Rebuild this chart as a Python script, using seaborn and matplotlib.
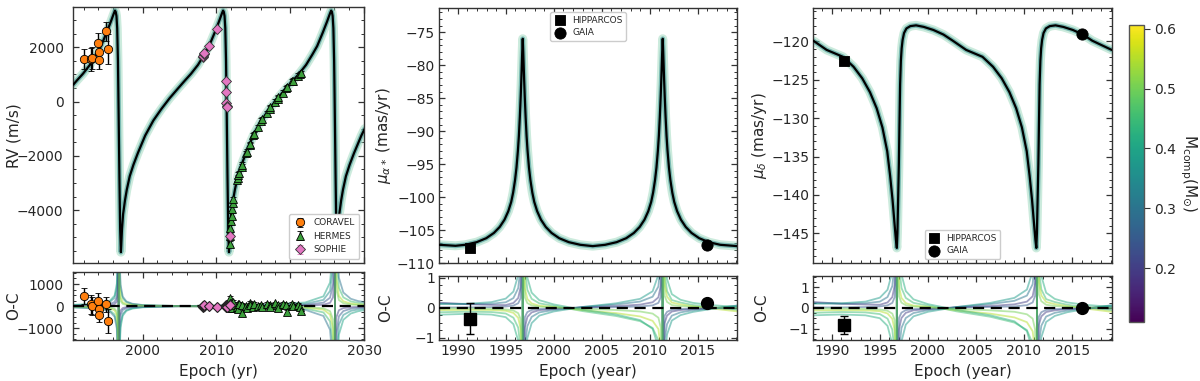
import matplotlib
matplotlib.use("Agg")
import matplotlib.pyplot as plt
import seaborn as sns
from matplotlib.ticker import MultipleLocator
from matplotlib.colors import Normalize
from matplotlib.cm import ScalarMappable

# ---------------- data ----------------
# RV best-fit model (black curve)
rv_model_t = [1990.6, 1991.1, 1991.9, 1992.85, 1993.7, 1994.35, 1995.1, 1995.7, 1996.1,
              1996.25, 1996.35, 1996.45, 1996.55, 1996.65, 1996.7, 1996.75, 1996.85, 1996.95, 1997.05,
              1997.1, 1997.2, 1997.35, 1997.6, 1997.85, 1998.25, 1998.75, 1999.35, 2000.35, 2001.45,
              2002.55, 2003.65, 2004.85, 2005.75, 2006.55, 2007.5, 2008.35, 2009.0, 2009.75, 2010.35, 2010.75,
              2010.9, 2011.0, 2011.1, 2011.2, 2011.3, 2011.35, 2011.4, 2011.5, 2011.6, 2011.7,
              2011.75, 2011.85, 2012.0, 2012.25, 2012.5, 2012.9, 2013.4, 2014.0, 2015.0, 2016.1,
              2017.2, 2018.3, 2019.5, 2020.4, 2021.2, 2022.15, 2023.0, 2023.65, 2024.4, 2025.0, 2025.4,
              2025.55, 2025.65, 2025.75, 2025.85, 2025.95, 2026.0, 2026.05, 2026.15, 2026.25, 2026.35,
              2026.4, 2026.5, 2026.65, 2026.9, 2027.15, 2027.55, 2028.05, 2028.65, 2029.65, 2030.1]
rv_model_v = [620, 780, 1020, 1350, 1730, 2040, 2530, 2950, 3250,
              3350, 3300, 3150, 2700, 1500, 500, -600, -2800, -4700, -5550,
              -5300, -4700, -4150, -3650, -3250, -2750, -2330, -1900, -1250, -700,
              -270, 120, 500, 780, 1020, 1350, 1730, 2040, 2530, 2950, 3250,
              3350, 3300, 3150, 2700, 1500, 500, -600, -2800, -4700, -5550,
              -5300, -4700, -4150, -3650, -3250, -2750, -2330, -1900, -1250, -700,
              -270, 120, 500, 780, 1020, 1350, 1730, 2040, 2530, 2950, 3250,
              3350, 3300, 3150, 2700, 1500, 500, -600, -2800, -4700, -5550,
              -5300, -4700, -4150, -3650, -3250, -2750, -2330, -1900, -1250, -1000]

# RV data
coravel_t = [1992.07, 1993.0, 1993.2, 1994.0, 1994.12, 1994.08, 1995.08, 1995.27]
coravel_rv = [1581, 1560, 1590, 2148, 1815, 1533, 2593, 1941]
coravel_err = [370, 420, 400, 370, 350, 330, 350, 550]
coravel_oc = [450, 77, 0, 225, -150, -405, 77, -676]

hermes_t = [2011.78, 2011.82, 2011.9, 2012.0, 2012.05, 2012.15, 2012.25, 2012.3, 2012.85, 2012.9,
            2012.95, 2013.0, 2013.4, 2013.45, 2014.0, 2014.1, 2014.5, 2014.55, 2015.0, 2015.05,
            2015.6, 2016.1, 2016.15, 2016.8, 2017.2, 2017.3, 2017.9, 2018.3, 2018.4, 2019.0,
            2019.45, 2019.6, 2020.3, 2020.4, 2021.1, 2021.3, 2021.5]
hermes_rv = [-5245, -4950, -4650, -4400, -4200, -3950, -3750, -3600, -2900, -2800,
             -2700, -2650, -2400, -2330, -1900, -1850, -1620, -1580, -1250, -1200,
             -950, -700, -660, -430, -270, -220, -10, 110, 150, 320,
             480, 520, 740, 770, 950, 1000, 1050]
hermes_oc = [350, 120, -80, 150, 60, -100, 40, 200, -50, 100,
             -150, 80, -320, 60, 20, -90, 150, 40, -60, 110,
             0, 70, -40, 90, 30, -20, 120, 60, -70, 100,
             40, -250, 80, 20, 60, -30, -230]
hermes_err = 90

sophie_t = [2008.15, 2008.22, 2008.28, 2008.35, 2008.95, 2010.1, 2011.33, 2011.35, 2011.36, 2011.37, 2011.38, 2011.8]
sophie_rv = [1640, 1690, 1740, 1800, 2040, 2680, 741, 333, -59, -159, -207, -4937]
sophie_oc = [-20, 10, 0, 30, 0, -20, 50, -40, 20, 0, -30, 60]
sophie_err = 30

# RV O-C posterior draws
rvoc_t = [1990.6, 1994.0, 1995.5, 1996.2, 1996.5, 1996.68, 1996.72, 1996.78, 1996.85, 1997.0,
          1997.3, 1997.8, 1998.6, 2000.0, 2005.0, 2015.0, 2022.0, 2024.5, 2025.4, 2025.8,
          2025.98, 2026.02, 2026.1, 2026.25, 2026.6, 2027.2, 2028.2, 2029.2, 2030.1]
rvoc_mass = [0.35, 0.45, 0.25, 0.55, 0.40, 0.30, 0.20, 0.50]
rvoc_1 = [45, 87, 175, 379, 815, 2860, 6600, -6600, -1985, -785, -349, -174, -92, -45, -3, 30, 103, 283, 686, 1793, 6430, 14850, -9000, -2257, -826, -398, -215, -149, -117]
rvoc_2 = [-45, -87, -175, -379, -815, -2860, -6600, 6600, 1985, 785, 349, 174, 92, 45, 3, -30, -103, -283, -686, -1793, -6430, -14850, 9000, 2257, 826, 398, 215, 149, 117]
rvoc_3 = [23, 44, 88, 190, 408, 1439, 3300, -3300, -992, -391, -173, -86, -45, -21, 0, 17, 58, 158, 382, 997, 3575, 8250, -5000, -1253, -458, -221, -119, -82, -65]
rvoc_4 = [-23, -44, -88, -190, -408, -1439, -3300, 3300, 992, 391, 173, 86, 45, 21, 0, -17, -58, -158, -382, -997, -3575, -8250, 5000, 1253, 458, 221, 119, 82, 65]
rvoc_5 = [61, 113, 223, 478, 1024, 3575, 8250, -8250, -2476, -976, -431, -213, -110, -51, 3, 50, 163, 443, 1069, 2791, 10000, 23100, -14000, -3509, -1283, -617, -334, -230, -180]
rvoc_6 = [-61, -113, -223, -478, -1024, -3575, -8250, 8250, 2476, 976, 431, 213, 110, 51, -3, -50, -163, -443, -1069, -2791, -10000, -23100, 14000, 3509, 1283, 617, 334, 230, 180]
rvoc_7 = [11, 21, 43, 94, 203, 715, 1650, -1650, -497, -197, -88, -44, -23, -12, -1, 6, 23, 63, 152, 398, 1428, 3298, -2000, -502, -184, -89, -48, -33, -26]
rvoc_8 = [-14, -26, -53, -114, -245, -858, -1980, 1980, 595, 235, 104, 52, 27, 13, 0, -10, -35, -95, -229, -598, -2143, -4948, 3000, 752, 275, 132, 72, 49, 39]

# proper motion in RA (best fit)
pmra_t = [1988.08, 1989.77, 1990.77, 1991.97, 1992.97, 1993.77, 1994.37, 1994.87, 1995.27, 1995.57,
          1995.77, 1995.97, 1996.12, 1996.27, 1996.37, 1996.47, 1996.56, 1996.62, 1996.67, 1996.72,
          1996.77, 1996.82, 1996.87, 1996.92, 1996.98, 1997.07, 1997.17, 1997.27, 1997.42, 1997.57,
          1997.77, 1997.97, 1998.27, 1998.67, 1999.17, 1999.77, 2000.57, 2001.57, 2002.77, 2004.06,
          2005.35, 2006.55, 2007.55, 2008.35, 2008.95, 2009.45, 2009.85, 2010.15, 2010.35, 2010.55,
          2010.7, 2010.85, 2010.95, 2011.05, 2011.14, 2011.2, 2011.25, 2011.3, 2011.35, 2011.4,
          2011.45, 2011.5, 2011.56, 2011.65, 2011.75, 2011.85, 2012.0, 2012.15, 2012.35, 2012.55,
          2012.85, 2013.25, 2013.75, 2014.35, 2015.15, 2016.15, 2017.35, 2019.12]
pmra_v = [-107.2, -107.35, -107.2, -106.8, -106.2, -105.4, -104.5, -103.4, -102.1, -100.7,
          -99.3, -97.4, -95.5, -92.9, -90.7, -87.8, -84.7, -82.3, -80.1, -77.9,
          -76.0, -77.9, -80.1, -82.3, -84.7, -87.8, -90.7, -92.9, -95.5, -97.4,
          -99.3, -100.7, -102.1, -103.4, -104.5, -105.4, -106.2, -106.8, -107.2, -107.4,
          -107.2, -106.8, -106.2, -105.4, -104.5, -103.4, -102.1, -100.7, -99.3, -97.4,
          -95.5, -92.9, -90.7, -87.8, -84.7, -82.3, -80.1, -77.9, -76.0, -77.9,
          -80.1, -82.3, -84.7, -87.8, -90.7, -92.9, -95.5, -97.4, -99.3, -100.7,
          -102.1, -103.4, -104.5, -105.4, -106.2, -106.8, -107.2, -107.4]

# proper motion in Dec (best fit)
pmdec_t = [1988.08, 1989.47, 1991.17, 1992.27, 1993.17, 1993.97, 1994.67, 1995.27, 1995.77, 1996.07,
           1996.32, 1996.52, 1996.67, 1996.77, 1996.83, 1996.88, 1996.93, 1996.98, 1997.04, 1997.11,
           1997.19, 1997.27, 1997.37, 1997.52, 1997.77, 1998.17, 1998.77, 1999.57, 2000.57, 2001.62,
           2002.59, 2003.98, 2005.68, 2006.78, 2007.68, 2008.48, 2009.18, 2009.78, 2010.28, 2010.58,
           2010.83, 2011.03, 2011.18, 2011.28, 2011.34, 2011.39, 2011.44, 2011.49, 2011.55, 2011.62,
           2011.7, 2011.78, 2011.88, 2012.03, 2012.28, 2012.68, 2013.28, 2014.08, 2015.08, 2016.13,
           2017.1, 2019.12]
pmdec_v = [-119.9, -121.1, -122.0, -123.3, -124.8, -126.6, -128.7, -131.2, -134.3, -137.5,
           -140.6, -143.6, -145.8, -146.9, -145.0, -142.0, -139.0, -136.0, -131.0, -125.6,
           -122.5, -120.9, -119.8, -118.9, -118.3, -118.0, -117.9, -118.1, -118.5, -119.1,
           -119.9, -121.1, -122.0, -123.3, -124.8, -126.6, -128.7, -131.2, -134.3, -137.5,
           -140.6, -143.6, -145.8, -146.9, -145.0, -142.0, -139.0, -136.0, -131.0, -125.6,
           -122.5, -120.9, -119.8, -118.9, -118.3, -118.0, -117.9, -118.1, -118.5, -119.1,
           -119.9, -121.1]

# Hipparcos / Gaia measurements
hg_t = [1991.25, 2016.0]
hg_pmra = [-107.7, -107.2]
hg_pmra_oc = [-0.36, 0.15]
hg_pmra_oc_err = [0.51, 0.04]
hg_pmdec = [-122.6, -119.0]
hg_pmdec_oc = [-0.82, 0.0]
hg_pmdec_oc_err = [0.42, 0.04]

# proper-motion O-C posterior draws
pmoc_t = [1988.08, 1991.0, 1993.5, 1995.0, 1995.8, 1996.3, 1996.55, 1996.73, 1996.81, 1997.0,
          1997.25, 1997.7, 1998.5, 2000.0, 2003.0, 2006.5, 2009.0, 2010.3, 2010.9, 2011.15,
          2011.3, 2011.37, 2011.55, 2011.8, 2012.3, 2013.2, 2014.5, 2016.5, 2019.12]
pmoc_mass = [0.30, 0.45, 0.20, 0.55, 0.38, 0.42, 0.25, 0.50]
raoc_1 = [0.145, 0.124, 0.136, 0.185, 0.325, 0.656, 1.38, 7.52, -7.48, -1.29, -0.61, -0.30, -0.15, -0.07, 0.03, 0.11, 0.21, 0.37, 0.71, 1.52, 8.38, -6.12, -1.07, -0.54, -0.26, -0.15, -0.08, -0.01, 0.075]
raoc_2 = [-0.147, -0.127, -0.139, -0.188, -0.328, -0.659, -1.385, -7.52, 7.48, 1.284, 0.603, 0.30, 0.15, 0.067, -0.108, -0.271, -0.444, -0.669, -1.078, -2.05, -10.3, 7.12, 1.145, 0.559, 0.26, 0.177, 0.095, 0.018, -0.068]
raoc_3 = [0.172, 0.122, 0.098, 0.092, 0.162, 0.328, 0.69, 3.76, -3.74, -0.644, -0.304, -0.152, -0.077, -0.036, 0.014, 0.057, 0.107, 0.185, 0.349, 0.737, 4.03, -2.93, -0.508, -0.258, -0.123, -0.073, -0.039, -0.008, 0.028]
raoc_4 = [-0.076, -0.066, -0.072, -0.097, -0.167, -0.333, -0.696, -3.76, 3.74, 0.639, 0.298, 0.146, 0.071, 0.029, -0.075, -0.176, -0.286, -0.433, -0.705, -1.35, -6.8, 4.76, 0.77, 0.376, 0.175, 0.115, 0.05, -0.022, -0.118]
raoc_5 = [0.125, 0.136, 0.19, 0.307, 0.541, 1.09, 2.30, 12.5, -12.5, -2.15, -1.01, -0.508, -0.258, -0.12, 0.028, 0.152, 0.30, 0.551, 1.10, 2.39, 13.4, -9.83, -1.73, -0.886, -0.422, -0.243, -0.134, -0.034, 0.076]
raoc_6 = [-0.227, -0.199, -0.223, -0.31, -0.544, -1.095, -2.31, -12.5, 12.5, 2.14, 1.01, 0.505, 0.254, 0.115, -0.064, -0.222, -0.408, -0.70, -1.31, -2.77, -15.1, 10.98, 1.90, 0.962, 0.456, 0.269, 0.165, 0.089, 0.03]
raoc_7 = [0.011, 0.015, 0.025, 0.043, 0.076, 0.153, 0.323, 1.75, -1.75, -0.30, -0.141, -0.071, -0.036, -0.016, 0.005, 0.023, 0.046, 0.083, 0.165, 0.359, 2.0, -1.47, -0.26, -0.133, -0.063, -0.036, -0.023, -0.015, -0.011]
raoc_8 = [-0.014, -0.019, -0.03, -0.051, -0.089, -0.177, -0.371, -2.0, 2.0, 0.341, 0.159, 0.079, 0.038, 0.016, -0.029, -0.072, -0.121, -0.191, -0.327, -0.65, -3.4, 2.41, 0.40, 0.198, 0.093, 0.058, 0.034, 0.014, -0.004]

decoc_1 = [0.23, 0.2, 0.22, 0.3, 0.52, 1.05, 2.21, 12.0, -12.0, -2.06, -0.97, -0.49, -0.25, -0.11, 0.04, 0.18, 0.34, 0.59, 1.14, 2.43, 13.4, -9.8, -1.71, -0.86, -0.42, -0.24, -0.13, -0.01, 0.12]
decoc_2 = [-0.24, -0.2, -0.22, -0.3, -0.52, -1.05, -2.22, -12.0, 12.0, 2.05, 0.96, 0.48, 0.24, 0.11, -0.17, -0.43, -0.71, -1.07, -1.72, -3.28, -16.5, 11.4, 1.83, 0.89, 0.42, 0.28, 0.15, 0.03, -0.11]
decoc_3 = [0.28, 0.2, 0.16, 0.15, 0.26, 0.52, 1.1, 6.0, -6.0, -1.03, -0.49, -0.24, -0.12, -0.06, 0.02, 0.09, 0.17, 0.3, 0.56, 1.18, 6.4, -4.7, -0.81, -0.41, -0.2, -0.12, -0.06, -0.01, 0.04]
decoc_4 = [-0.12, -0.11, -0.12, -0.16, -0.27, -0.53, -1.11, -6.0, 6.0, 1.02, 0.48, 0.23, 0.11, 0.05, -0.12, -0.28, -0.46, -0.69, -1.13, -2.16, -10.9, 7.6, 1.23, 0.6, 0.28, 0.18, 0.08, -0.04, -0.19]
decoc_5 = [0.2, 0.22, 0.3, 0.49, 0.87, 1.74, 3.68, 20.0, -20.0, -3.44, -1.62, -0.81, -0.41, -0.19, 0.04, 0.24, 0.48, 0.88, 1.76, 3.82, 21.0, -15.7, -2.77, -1.42, -0.68, -0.39, -0.21, -0.05, 0.12]
decoc_6 = [-0.36, -0.32, -0.36, -0.5, -0.87, -1.75, -3.7, -20.0, 20.0, 3.42, 1.62, 0.81, 0.41, 0.18, -0.1, -0.36, -0.65, -1.12, -2.1, -4.43, -24.0, 17.6, 3.04, 1.54, 0.73, 0.43, 0.26, 0.14, 0.05]
decoc_7 = [0.02, 0.02, 0.04, 0.07, 0.12, 0.24, 0.52, 2.8, -2.8, -0.48, -0.23, -0.11, -0.06, -0.03, 0.01, 0.04, 0.07, 0.13, 0.26, 0.57, 3.2, -2.35, -0.42, -0.21, -0.1, -0.06, -0.04, -0.02, -0.02]
decoc_8 = [-0.02, -0.03, -0.05, -0.08, -0.14, -0.28, -0.59, -3.2, 3.2, 0.55, 0.25, 0.13, 0.06, 0.03, -0.05, -0.12, -0.19, -0.31, -0.52, -1.04, -5.4, 3.86, 0.64, 0.32, 0.15, 0.09, 0.05, 0.02, -0.01]

mass_min, mass_max = 0.11, 0.606

# ---------------- style ----------------
sns.set_style("ticks", {"xtick.direction": "in", "ytick.direction": "in",
                        "axes.edgecolor": "#333333"})
plt.rcParams.update({
    "font.family": ["DejaVu Sans"],
    "font.size": 10,
    "xtick.labelsize": 10,
    "ytick.labelsize": 10,
    "axes.labelsize": 11,
    "axes.linewidth": 1.0,
    "mathtext.fontset": "dejavusans",
})

cmap = plt.get_cmap("viridis")
norm = Normalize(mass_min, mass_max)

fig = plt.figure(figsize=(12, 3.81), dpi=100)


def style(ax, xmaj, xmin, ymaj, ymin, ypad=3, labelbottom=True):
    ax.xaxis.set_major_locator(MultipleLocator(xmaj))
    ax.xaxis.set_minor_locator(MultipleLocator(xmin))
    ax.yaxis.set_major_locator(MultipleLocator(ymaj))
    ax.yaxis.set_minor_locator(MultipleLocator(ymin))
    ax.tick_params(which="both", direction="in", top=True, right=True, color="#333333")
    ax.tick_params(which="major", length=4, width=0.9)
    ax.tick_params(which="minor", length=2, width=0.7)
    ax.tick_params(axis="y", pad=ypad)
    ax.tick_params(axis="x", pad=3, labelbottom=labelbottom)
    for s in ax.spines.values():
        s.set_color("#333333")


def draw_model(ax, t, v):
    sns.lineplot(x=t, y=v, ax=ax, color="#8fd3b4", linewidth=6.5, alpha=0.45,
                 sort=False, estimator=None, legend=False, zorder=1)
    sns.lineplot(x=t, y=v, ax=ax, color="#2a8a8a", linewidth=3.5, alpha=0.5,
                 sort=False, estimator=None, legend=False, zorder=2)
    sns.lineplot(x=t, y=v, ax=ax, color="black", linewidth=1.6,
                 sort=False, estimator=None, legend=False, zorder=3)


def draw_oc(ax, t, lines, masses):
    for vals, m in zip(lines, masses):
        sns.lineplot(x=t, y=vals, ax=ax, color=cmap(norm(m)), linewidth=1.3, alpha=0.5,
                     sort=False, estimator=None, legend=False, zorder=1)
    ax.axhline(0, color="black", ls=(0, (5, 3)), lw=1.6, zorder=3)


W, H = 1200.0, 381.0


def add_ax(x0, x1, y0, y1):
    return fig.add_axes([x0 / W, 1 - y1 / H, (x1 - x0) / W, (y1 - y0) / H])


# ---------------- panel 1: RV ----------------
ax1 = add_ax(73.3, 364.0, 7.3, 263.3)
ax1b = add_ax(73.3, 364.0, 272.3, 340.0)
draw_model(ax1, rv_model_t, rv_model_v)
ax1.errorbar(coravel_t, coravel_rv, yerr=coravel_err, fmt="o", mfc="#ff7f0e", mec="black",
             mew=0.6, ms=6, ecolor="black", elinewidth=1.0, capsize=2.5, label="CORAVEL", zorder=6)
ax1.errorbar(hermes_t, hermes_rv, yerr=hermes_err, fmt="^", mfc="#3ca03c", mec="black",
             mew=0.6, ms=5.5, ecolor="black", elinewidth=1.0, capsize=2, label="HERMES", zorder=5)
ax1.errorbar(sophie_t, sophie_rv, yerr=sophie_err, fmt="D", mfc="#e377c2", mec="#333333",
             mew=0.6, ms=5.5, ecolor="#e377c2", elinewidth=1.0, capsize=2, label="SOPHIE", zorder=7)
ax1.set_xlim(1990.6, 2030.0)
ax1.set_ylim(-5960, 3470)
ax1.set_ylabel("RV (m/s)")
style(ax1, 10, 2, 2000, 500, ypad=7, labelbottom=False)
ax1.yaxis.set_label_coords(-0.178, 0.5)
ax1.legend(loc="lower right", fontsize=6.5, frameon=True, fancybox=True, edgecolor="0.8",
           framealpha=1, handlelength=1.4, borderpad=0.5, labelspacing=0.5)

draw_oc(ax1b, rvoc_t, [rvoc_1, rvoc_2, rvoc_3, rvoc_4, rvoc_5, rvoc_6, rvoc_7, rvoc_8], rvoc_mass)
ax1b.errorbar(coravel_t, coravel_oc, yerr=coravel_err, fmt="o", mfc="#ff7f0e", mec="black",
              mew=0.6, ms=6, ecolor="black", elinewidth=1.0, capsize=2.5, zorder=6)
ax1b.errorbar(hermes_t, hermes_oc, yerr=hermes_err, fmt="^", mfc="#3ca03c", mec="black",
              mew=0.6, ms=5.5, ecolor="black", elinewidth=1.0, capsize=2, zorder=5)
ax1b.errorbar(sophie_t, sophie_oc, yerr=sophie_err, fmt="D", mfc="#e377c2", mec="#222222",
              mew=0.8, ms=5.5, ecolor="#e377c2", elinewidth=1.0, capsize=2, zorder=7)
ax1b.set_xlim(1990.6, 2030.0)
ax1b.set_ylim(-1530, 1530)
ax1b.set_ylabel("O-C")
ax1b.set_xlabel("Epoch (yr)")
style(ax1b, 10, 2, 1000, 250, ypad=7)
ax1b.yaxis.set_label_coords(-0.178, 0.5)

# ---------------- panel 2: pm RA ----------------
xl = (1988.08, 2019.12)
ax2 = add_ax(439.3, 737.3, 7.7, 263.3)
ax2b = add_ax(439.3, 737.3, 275.7, 340.0)
draw_model(ax2, pmra_t, pmra_v)
sns.scatterplot(x=[hg_t[0]], y=[hg_pmra[0]], ax=ax2, marker="s", s=60, color="black",
                edgecolor="black", label="HIPPARCOS", zorder=6)
sns.scatterplot(x=[hg_t[1]], y=[hg_pmra[1]], ax=ax2, marker="o", s=65, color="black",
                edgecolor="black", label="GAIA", zorder=6)
ax2.set_xlim(*xl)
ax2.set_ylim(-110, -71.3)
ax2.set_ylabel(r"$\mu_{\alpha*}$ (mas/yr)")
style(ax2, 5, 1, 5, 1, labelbottom=False)
ax2.yaxis.set_label_coords(-0.155, 0.5)
ax2.legend(loc="upper center", fontsize=6.5, frameon=True, fancybox=True, edgecolor="0.8",
           framealpha=1, handlelength=1.2, borderpad=0.4, labelspacing=0.4)

draw_oc(ax2b, pmoc_t, [raoc_1, raoc_2, raoc_3, raoc_4, raoc_5, raoc_6, raoc_7, raoc_8], pmoc_mass)
ax2b.errorbar([hg_t[0]], [hg_pmra_oc[0]], yerr=[hg_pmra_oc_err[0]], fmt="s", ms=8, color="black",
              capsize=3, elinewidth=1.0, zorder=6)
ax2b.errorbar([hg_t[1]], [hg_pmra_oc[1]], yerr=[hg_pmra_oc_err[1]], fmt="o", ms=8.5, color="black",
              capsize=3, elinewidth=1.0, zorder=6)
ax2b.set_xlim(*xl)
ax2b.set_ylim(-1.07, 1.07)
ax2b.set_ylabel("O-C")
ax2b.set_xlabel("Epoch (year)")
style(ax2b, 5, 1, 1, 0.25)
ax2b.yaxis.set_label_coords(-0.155, 0.5)

# ---------------- panel 3: pm Dec ----------------
ax3 = add_ax(813.3, 1111.7, 7.7, 263.3)
ax3b = add_ax(813.3, 1111.7, 275.7, 340.0)
draw_model(ax3, pmdec_t, pmdec_v)
sns.scatterplot(x=[hg_t[0]], y=[hg_pmdec[0]], ax=ax3, marker="s", s=60, color="black",
                edgecolor="black", label="HIPPARCOS", zorder=6)
sns.scatterplot(x=[hg_t[1]], y=[hg_pmdec[1]], ax=ax3, marker="o", s=65, color="black",
                edgecolor="black", label="GAIA", zorder=6)
ax3.set_xlim(*xl)
ax3.set_ylim(-148.9, -115.6)
ax3.set_ylabel(r"$\mu_{\delta}$ (mas/yr)")
style(ax3, 5, 1, 5, 1, labelbottom=False)
ax3.yaxis.set_label_coords(-0.148, 0.5)
ax3.legend(loc="lower center", fontsize=6.5, frameon=True, fancybox=True, edgecolor="0.8",
           framealpha=1, handlelength=1.2, borderpad=0.4, labelspacing=0.4)

draw_oc(ax3b, pmoc_t, [decoc_1, decoc_2, decoc_3, decoc_4, decoc_5, decoc_6, decoc_7, decoc_8], pmoc_mass)
ax3b.errorbar([hg_t[0]], [hg_pmdec_oc[0]], yerr=[hg_pmdec_oc_err[0]], fmt="s", ms=8, color="black",
              capsize=3, elinewidth=1.0, zorder=6)
ax3b.errorbar([hg_t[1]], [hg_pmdec_oc[1]], yerr=[hg_pmdec_oc_err[1]], fmt="o", ms=8.5, color="black",
              capsize=3, elinewidth=1.0, zorder=6)
ax3b.set_xlim(*xl)
ax3b.set_ylim(-1.55, 1.55)
ax3b.set_ylabel("O-C")
ax3b.set_xlabel("Epoch (year)")
style(ax3b, 5, 1, 1, 0.25)
ax3b.yaxis.set_label_coords(-0.148, 0.5)

# ---------------- colorbar ----------------
cax = add_ax(1129, 1144, 25, 322.3)
sm = ScalarMappable(norm=norm, cmap=cmap)
cb = fig.colorbar(sm, cax=cax)
cb.set_ticks([0.2, 0.3, 0.4, 0.5, 0.6])
cb.ax.tick_params(labelsize=10, length=4, direction="out", color="#333333")
cb.outline.set_edgecolor("#555555")
cb.set_label(r"M$_{\rm comp}$(M$_{\odot}$)", rotation=270, labelpad=16, fontsize=11)

fig.savefig("out.png", dpi=100)
